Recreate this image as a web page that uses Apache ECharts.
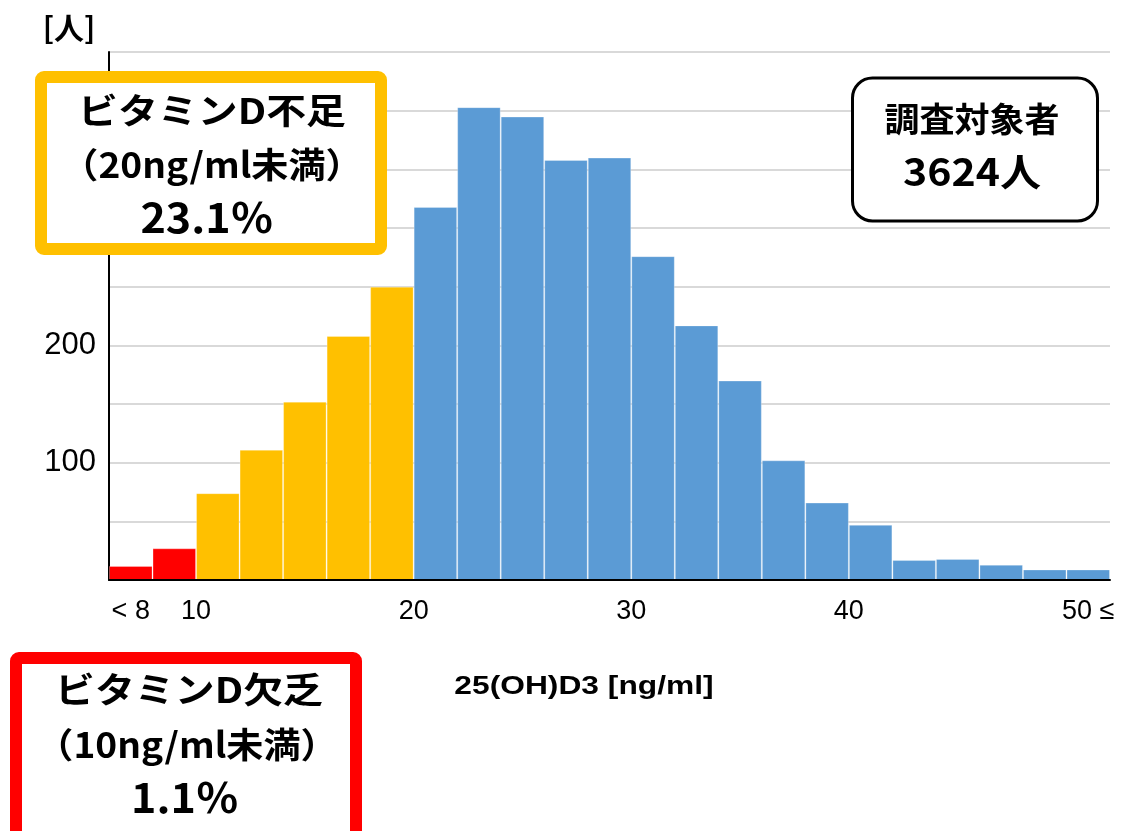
<!DOCTYPE html>
<html>
<head>
<meta charset="utf-8">
<script src="https://cdn.jsdelivr.net/npm/echarts@6/dist/echarts.min.js"></script>
<style>
  html, body { margin: 0; padding: 0; background: #fff; }
  #chart { width: 1122px; height: 831px; }
</style>
</head>
<body>
<div id="chart"></div>
<script>
// Histogram bins of serum 25(OH)D3 (2 ng/ml wide, open-ended at both ends)
const binLabels = ['<8', '8-10', '10-12', '12-14', '14-16', '16-18', '18-20',
  '20-22', '22-24', '24-26', '26-28', '28-30', '30-32', '32-34', '34-36',
  '36-38', '38-40', '40-42', '42-44', '44-46', '46-48', '48-50', '50≤'];
// Number of people in each bin
const counts = [12, 27, 74, 111, 152, 208, 250,
  318, 403, 395, 358, 360, 276, 217, 170,
  102, 66, 47, 17, 18, 13, 9, 9];
// Tick positions on the concentration scale (ng/ml) and their texts
const tickValues = [7, 10, 20, 30, 40, 51];
const tickTexts = ['< 8', '10', '20', '30', '40', '50 ≤'];

const RED = '#FF0000', ORANGE = '#FFC000', BLUE = '#5B9BD5';
function binColor(i) {
  if (i < 2) return RED;       // below 10 ng/ml
  if (i < 7) return ORANGE;    // 10 to 20 ng/ml
  return BLUE;                 // 20 ng/ml and above
}

const CJK = '"Noto Sans CJK JP", sans-serif';
const LATIN = '"Liberation Sans", Arial, sans-serif';

function label(text, x, y, size, sx) {
  return {
    type: 'text', x: x, y: y, z: 110, scaleX: sx || 1,
    style: {
      text: text, fill: '#000',
      font: 'bold ' + size + 'px ' + CJK,
      align: 'center', verticalAlign: 'middle',
      textAlign: 'center', textVerticalAlign: 'middle'
    }
  };
}

const chart = echarts.init(document.getElementById('chart'), null, { renderer: 'canvas' });
chart.setOption({
  animation: false,
  backgroundColor: '#fff',
  grid: { left: 109, right: 12, top: 52, bottom: 251, containLabel: false },
  xAxis: [
    {
      type: 'category',
      data: binLabels,
      boundaryGap: true,
      axisLine: { show: true, lineStyle: { color: '#000', width: 2 } },
      axisTick: { show: false },
      axisLabel: { show: false },
      splitLine: { show: false },
      z: 5
    },
    {
      type: 'value',
      min: 6, max: 52, interval: 1,
      position: 'bottom',
      axisLine: { show: false },
      axisTick: { show: false },
      splitLine: { show: false },
      axisLabel: {
        show: true,
        margin: 18,
        fontSize: 27,
        fontFamily: 'Liberation Sans',
        color: '#000',
        formatter: function (v) {
          const k = tickValues.indexOf(v);
          return k >= 0 ? tickTexts[k] : '';
        }
      }
    }
  ],
  yAxis: {
    type: 'value',
    min: 0, max: 450, interval: 50,
    axisLine: { show: true, lineStyle: { color: '#000', width: 2 } },
    axisTick: { show: false },
    splitLine: { show: true, lineStyle: { color: '#d9d9d9', width: 2 } },
    axisLabel: {
      margin: 13,
      fontSize: 31,
      fontFamily: 'Liberation Sans',
      color: '#000',
      formatter: function (v) { return (v > 0 && v % 100 === 0) ? String(v) : ''; }
    }
  },
  series: [{
    type: 'bar',
    xAxisIndex: 0,
    barCategoryGap: 0,
    data: counts.map(function (c, i) {
      return { value: c, itemStyle: { color: binColor(i) } };
    }),
    itemStyle: { borderColor: 'rgba(255,255,255,0.28)', borderWidth: 1 }
  }],
  graphic: [
    // y-axis unit
    { type: 'text', x: 69, y: 28, z: 110,
      style: { text: '[人]', font: 'bold 30px ' + CJK, fill: '#000',
        align: 'center', verticalAlign: 'middle', textAlign: 'center', textVerticalAlign: 'middle' } },
    // x-axis title
    { type: 'text', x: 584, y: 687, z: 110, scaleX: 1.27,
      style: { text: '25(OH)D3 [ng/ml]', font: 'bold 25px ' + LATIN, fill: '#000',
        align: 'center', verticalAlign: 'middle', textAlign: 'center', textVerticalAlign: 'middle' } },

    // insufficiency box
    { type: 'rect', z: 100,
      shape: { x: 41, y: 77, width: 340, height: 172, r: 3 },
      style: { fill: '#fff', stroke: ORANGE, lineWidth: 12 } },
    label('ビタミンD不足', 212, 111, 35, 1.14),
    label('（20ng/ml未満）', 212, 165, 35, 1.06),
    label('23.1％', 207, 217, 41, 1.05),

    // deficiency box
    { type: 'rect', z: 100,
      shape: { x: 16, y: 658, width: 340, height: 200, r: 3 },
      style: { fill: '#fff', stroke: RED, lineWidth: 12 } },
    label('ビタミンD欠乏', 189, 690, 35, 1.14),
    label('（10ng/ml未満）', 187, 745, 35, 1.06),
    label('1.1％', 185, 797, 41, 1.05),

    // number of participants
    { type: 'rect', z: 100,
      shape: { x: 852.5, y: 78, width: 245, height: 143, r: 20 },
      style: { fill: '#fff', stroke: '#000', lineWidth: 3 } },
    label('調査対象者', 972, 119, 34, 1.03),
    label('3624人', 972, 172, 38, 1.08)
  ]
});
</script>
</body>
</html>
